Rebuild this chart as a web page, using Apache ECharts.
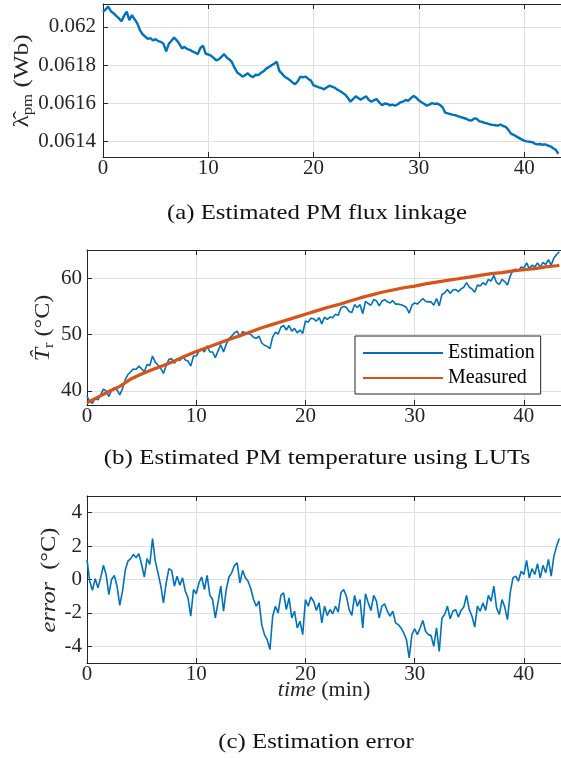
<!DOCTYPE html>
<html><head><meta charset="utf-8">
<script src="https://cdn.jsdelivr.net/npm/echarts@6/dist/echarts.min.js"></script>
<style>html,body{margin:0;padding:0;background:#fff}#c{width:561px;height:758px}</style>
</head><body><div id="c"></div>
<script>
// sample instants (min)
const timeMin = [0,0.25,0.5,0.75,1,1.25,1.5,1.75,2,2.25,2.5,2.75,3,3.25,3.5,3.75,4,4.25,4.5,4.75,5,5.25,5.5,5.75,6,6.25,6.5,6.75,7,7.25,7.5,7.75,8,8.25,8.5,8.75,9,9.25,9.5,9.75,10,10.25,10.5,10.75,11,11.25,11.5,11.75,12,12.25,12.5,12.75,13,13.25,13.5,13.75,14,14.25,14.5,14.75,15,15.25,15.5,15.75,16,16.25,16.5,16.75,17,17.25,17.5,17.75,18,18.25,18.5,18.75,19,19.25,19.5,19.75,20,20.25,20.5,20.75,21,21.25,21.5,21.75,22,22.25,22.5,22.75,23,23.25,23.5,23.75,24,24.25,24.5,24.75,25,25.25,25.5,25.75,26,26.25,26.5,26.75,27,27.25,27.5,27.75,28,28.25,28.5,28.75,29,29.25,29.5,29.75,30,30.25,30.5,30.75,31,31.25,31.5,31.75,32,32.25,32.5,32.75,33,33.25,33.5,33.75,34,34.25,34.5,34.75,35,35.25,35.5,35.75,36,36.25,36.5,36.75,37,37.25,37.5,37.75,38,38.25,38.5,38.75,39,39.25,39.5,39.75,40,40.25,40.5,40.75,41,41.25,41.5,41.75,42,42.25,42.5,42.75,43,43.25];

// (a) estimated PM flux linkage (Wb)
const fluxWb = [
0.062079,0.062092,0.062106,0.062082,0.062072,0.062058,0.062046,0.062030,
0.062058,0.062080,0.062036,0.062062,0.062040,0.062020,0.061985,0.061962,
0.061950,0.061938,0.061942,0.061930,0.061936,0.061926,0.061922,0.061912,
0.061872,0.061912,0.061928,0.061945,0.061930,0.061912,0.061888,0.061896,
0.061884,0.061880,0.061872,0.061866,0.061858,0.061890,0.061902,0.061860,
0.061856,0.061850,0.061838,0.061826,0.061830,0.061844,0.061858,0.061840,
0.061830,0.061816,0.061786,0.061762,0.061752,0.061740,0.061748,0.061758,
0.061744,0.061738,0.061750,0.061748,0.061760,0.061768,0.061782,0.061790,
0.061800,0.061808,0.061818,0.061770,0.061756,0.061740,0.061732,0.061722,
0.061710,0.061700,0.061716,0.061740,0.061736,0.061740,0.061728,0.061720,
0.061694,0.061690,0.061684,0.061680,0.061674,0.061684,0.061693,0.061688,
0.061683,0.061672,0.061665,0.061656,0.061646,0.061630,0.061609,0.061622,
0.061637,0.061628,0.061620,0.061630,0.061637,0.061618,0.061609,0.061618,
0.061622,0.061605,0.061591,0.061600,0.061598,0.061590,0.061594,0.061588,
0.061596,0.061606,0.061610,0.061618,0.061614,0.061628,0.061640,0.061630,
0.061616,0.061606,0.061598,0.061588,0.061594,0.061602,0.061598,0.061600,
0.061592,0.061580,0.061552,0.061548,0.061544,0.061540,0.061538,0.061532,
0.061528,0.061524,0.061520,0.061512,0.061510,0.061522,0.061520,0.061506,
0.061504,0.061498,0.061496,0.061490,0.061488,0.061486,0.061484,0.061490,
0.061482,0.061478,0.061462,0.061442,0.061436,0.061428,0.061420,0.061412,
0.061406,0.061402,0.061400,0.061398,0.061390,0.061386,0.061388,0.061384,
0.061386,0.061380,0.061376,0.061366,0.061358,0.061336];

// (b) estimated PM temperature (°C)
const tempEst = [
39.1,38.1,37.8,38.7,38.4,39.3,40.3,40.0,
39.0,40.1,40.6,40.2,39.3,40.4,42.0,42.9,
43.4,43.9,43.8,44.4,43.9,43.4,44.7,44.5,
46.2,45.1,44.6,44.0,43.1,44.5,45.6,45.7,
44.9,45.7,45.4,46.1,45.5,45.3,44.4,46.2,
46.2,47.0,47.5,46.9,48.0,46.9,46.9,45.9,
47.1,48.2,46.9,48.3,49.3,49.7,50.3,50.6,
49.6,50.5,50.3,50.2,50.0,49.5,49.3,49.7,
48.5,48.1,47.9,47.5,49.6,50.4,50.1,51.3,
51.6,50.8,51.6,50.6,51.1,50.3,50.8,50.2,
52.4,52.2,52.9,52.8,52.4,53.0,51.9,53.1,
52.7,53.1,53.0,53.6,53.4,54.7,55.0,54.8,
54.1,53.9,55.3,54.8,55.3,53.7,55.9,55.5,
55.2,56.2,56.0,55.1,55.9,56.2,55.8,55.6,
56.0,55.4,55.4,55.3,55.1,54.8,53.8,55.2,
55.6,55.4,55.9,56.4,55.9,55.8,55.8,55.2,
56.4,55.1,57.1,57.4,58.0,57.3,57.9,58.0,
57.6,58.1,58.4,59.2,58.4,58.1,57.5,58.8,
58.6,59.2,58.8,59.8,59.5,60.5,59.2,58.9,
59.8,59.4,58.8,60.4,61.4,61.6,61.3,62.0,
61.8,62.7,61.7,62.3,62.0,62.7,62.0,62.8,
62.4,63.3,62.3,63.6,64.2,64.7];

// (b) measured PM temperature (°C)
const timeMeas = [0,1,2,3,4,5,6,7,8,9,10,11,12,13,14,15,16,17,18,19,20,21,22,23,24,25,26,27,28,29,30,31,32,33,34,35,36,37,38,39,40,41,42,43,43.25];
const tempMeas = [37.9,38.9,39.9,40.8,42.1,43.0,43.8,44.5,45.3,46.2,47.0,47.7,48.4,49.1,49.8,50.5,51.2,51.8,52.4,53.0,53.6,54.2,54.8,55.3,55.9,56.5,57.0,57.5,57.9,58.3,58.6,59.0,59.3,59.6,59.9,60.2,60.5,60.8,61.0,61.3,61.5,61.7,62.0,62.2,62.3];

// (c) estimation error (°C)
const errorC = [
1.18,-0.1,-0.65,0.05,-0.5,0.1,0.85,0.3,
-0.9,0.0,0.25,-0.4,-1.55,-0.7,0.55,1.1,
1.25,1.5,1.3,1.55,0.9,0.15,1.25,0.9,
2.45,1.1,0.4,-0.35,-1.4,-0.2,0.65,0.55,
-0.4,0.2,-0.35,0.1,-0.7,-1.1,-2.2,-0.6,
-0.85,-0.2,0.15,-0.6,0.25,-0.95,-1.2,-2.3,
-1.35,-0.4,-1.9,-0.6,0.15,0.4,0.85,1.0,
-0.2,0.55,0.1,-0.1,-0.55,-1.2,-1.6,-1.3,
-2.7,-3.3,-3.6,-4.2,-2.2,-1.6,-2.0,-0.95,
-0.8,-1.8,-1.1,-2.3,-1.9,-2.9,-2.5,-3.3,
-1.2,-1.6,-1.05,-1.3,-1.85,-1.4,-2.6,-1.6,
-2.15,-1.8,-2.05,-1.6,-1.95,-0.8,-0.6,-1.0,
-1.8,-2.15,-0.95,-1.6,-1.2,-2.9,-0.85,-1.4,
-1.85,-0.95,-1.3,-2.3,-1.6,-1.45,-1.9,-2.2,
-1.9,-2.6,-2.7,-2.9,-3.2,-3.6,-4.7,-3.3,
-2.95,-3.3,-2.9,-2.45,-3.1,-3.3,-3.35,-4.0,
-2.9,-4.3,-2.3,-2.1,-1.6,-2.35,-1.9,-1.8,
-2.25,-1.85,-1.65,-0.95,-1.8,-2.2,-2.85,-1.6,
-1.9,-1.4,-1.85,-0.95,-1.3,-0.4,-1.7,-2.1,
-1.2,-1.65,-2.4,-0.8,0.1,0.2,-0.1,0.5,
0.3,1.15,0.1,0.65,0.3,0.95,0.1,0.85,
0.4,1.2,0.2,1.4,2.0,2.45];

const captions = ['(a) Estimated PM flux linkage','(b) Estimated PM temperature using LUTs','(c) Estimation error'];
const legendNames = ['Estimation','Measured'];

const AX = '#262626', GRIDC = '#e0e0e0', BLUE = '#0072BD', ORANGE = '#D95319';
const F = 'Liberation Serif';
const pairs = (xs, ys) => xs.map((x, i) => [x, ys[i]]);

const grids = [
  {left: 103, top: 4, width: 460, height: 153},
  {left: 87, top: 250, width: 476, height: 155},
  {left: 87, top: 496, width: 476, height: 167}
];
const xMax = [43.5, 43.4, 43.4];
const yDefs = [
  {min: 0.06132, max: 0.06212, splitNumber: 4, margin: 7},
  {min: 37.5, max: 65, splitNumber: 3, margin: 5},
  {min: -5, max: 5, splitNumber: 5, margin: 5}
];

const xAxes = [], yAxes = [];
grids.forEach((g, i) => {
  xAxes.push({
    gridIndex: i, type: 'value', min: 0, max: xMax[i], interval: 10, position: 'bottom',
    axisLine: {show: true, onZero: false, lineStyle: {color: AX, width: 1}},
    axisTick: {show: true, inside: true, length: 5, lineStyle: {color: AX}},
    axisLabel: {fontFamily: F, fontSize: 21, color: AX, margin: 1, showMaxLabel: false},
    splitLine: {show: true, lineStyle: {color: GRIDC, width: 1}}
  });
});
grids.forEach((g, i) => {
  xAxes.push({
    gridIndex: i, type: 'value', min: 0, max: xMax[i], interval: 10, position: 'top',
    axisLine: {show: true, onZero: false, lineStyle: {color: AX, width: 1}},
    axisTick: {show: true, inside: true, length: 5, lineStyle: {color: AX}},
    axisLabel: {show: false}, splitLine: {show: false}
  });
  const y = yDefs[i];
  yAxes.push({
    gridIndex: i, type: 'value', min: y.min, max: y.max, splitNumber: y.splitNumber,
    axisLine: {show: true, onZero: false, lineStyle: {color: AX, width: 1}},
    axisTick: {show: true, inside: true, length: 5, lineStyle: {color: AX}},
    axisLabel: {fontFamily: F, fontSize: 21, color: AX, margin: y.margin, showMinLabel: false, showMaxLabel: false},
    splitLine: {show: true, lineStyle: {color: GRIDC, width: 1}}
  });
});

const capText = (t, x, y, sx) => ({
  type: 'text', x: x, y: y, scaleX: sx,
  style: {text: t, font: '21px "Liberation Serif"', fill: '#111', textAlign: 'center', textVerticalAlign: 'middle', align: 'center', verticalAlign: 'middle'}
});
const richBase = {
  l: {fontFamily: F, fontSize: 21, fill: AX, color: AX, lineHeight: 26, verticalAlign: 'middle'},
  i: {fontFamily: F, fontSize: 21, fontStyle: 'italic', fill: AX, color: AX, lineHeight: 26, verticalAlign: 'middle'},
  s: {fontFamily: F, fontSize: 14, fill: AX, color: AX, lineHeight: 14, verticalAlign: 'bottom'}
};
const yName = (t, x, y, sx) => ({
  type: 'text', x: x, y: y, rotation: Math.PI / 2, scaleX: sx,
  style: {text: t, rich: richBase, textAlign: 'center', textVerticalAlign: 'middle', align: 'center', verticalAlign: 'middle'}
});

const option = {
  animation: false,
  backgroundColor: '#fff',
  grid: grids,
  xAxis: xAxes,
  yAxis: yAxes,
  legend: {
    data: legendNames, orient: 'vertical', left: 355, top: 336,
    padding: [7, 6, 6, 8], itemGap: 5, itemWidth: 80, itemHeight: 2, icon: 'rect',
    textStyle: {fontFamily: F, fontSize: 20, color: '#000'},
    backgroundColor: '#fff', borderColor: AX, borderWidth: 1, borderRadius: 0
  },
  graphic: [
    capText(captions[0], 317, 213, 1.18),
    capText(captions[1], 317, 458, 1.19),
    capText(captions[2], 316, 742, 1.18),
    yName('{l|λ\u0302}{s|pm}{l| (Wb)}', 22, 81, 1.2),
    yName('{i|T\u0302}{s|r}{l| (°C)}', 43, 328, 1.15),
    yName('{i|error}{l|  (°C)}', 49, 580, 1.16),
    {type: 'text', x: 324, y: 690, scaleX: 1.05,
     style: {text: '{i|time}{l| (min)}', rich: richBase, textAlign: 'center', textVerticalAlign: 'middle', align: 'center', verticalAlign: 'middle'}}
  ],
  series: [
    {name: 'flux', type: 'line', xAxisIndex: 0, yAxisIndex: 0, data: pairs(timeMin, fluxWb),
     symbol: 'none', showSymbol: false, lineStyle: {color: BLUE, width: 2.4}, itemStyle: {color: BLUE}},
    {name: 'Estimation', type: 'line', xAxisIndex: 1, yAxisIndex: 1, data: pairs(timeMin, tempEst),
     symbol: 'none', showSymbol: false, lineStyle: {color: BLUE, width: 1.6}, itemStyle: {color: BLUE}},
    {name: 'Measured', type: 'line', xAxisIndex: 1, yAxisIndex: 1, data: pairs(timeMeas, tempMeas),
     symbol: 'none', showSymbol: false, lineStyle: {color: ORANGE, width: 3.2}, itemStyle: {color: ORANGE}},
    {name: 'error', type: 'line', xAxisIndex: 2, yAxisIndex: 2, data: pairs(timeMin, errorC),
     symbol: 'none', showSymbol: false, lineStyle: {color: BLUE, width: 1.6}, itemStyle: {color: BLUE}}
  ]
};
const chart = echarts.init(document.getElementById('c'), null, {renderer: 'canvas'});
chart.setOption(option);
</script>
</body></html>
